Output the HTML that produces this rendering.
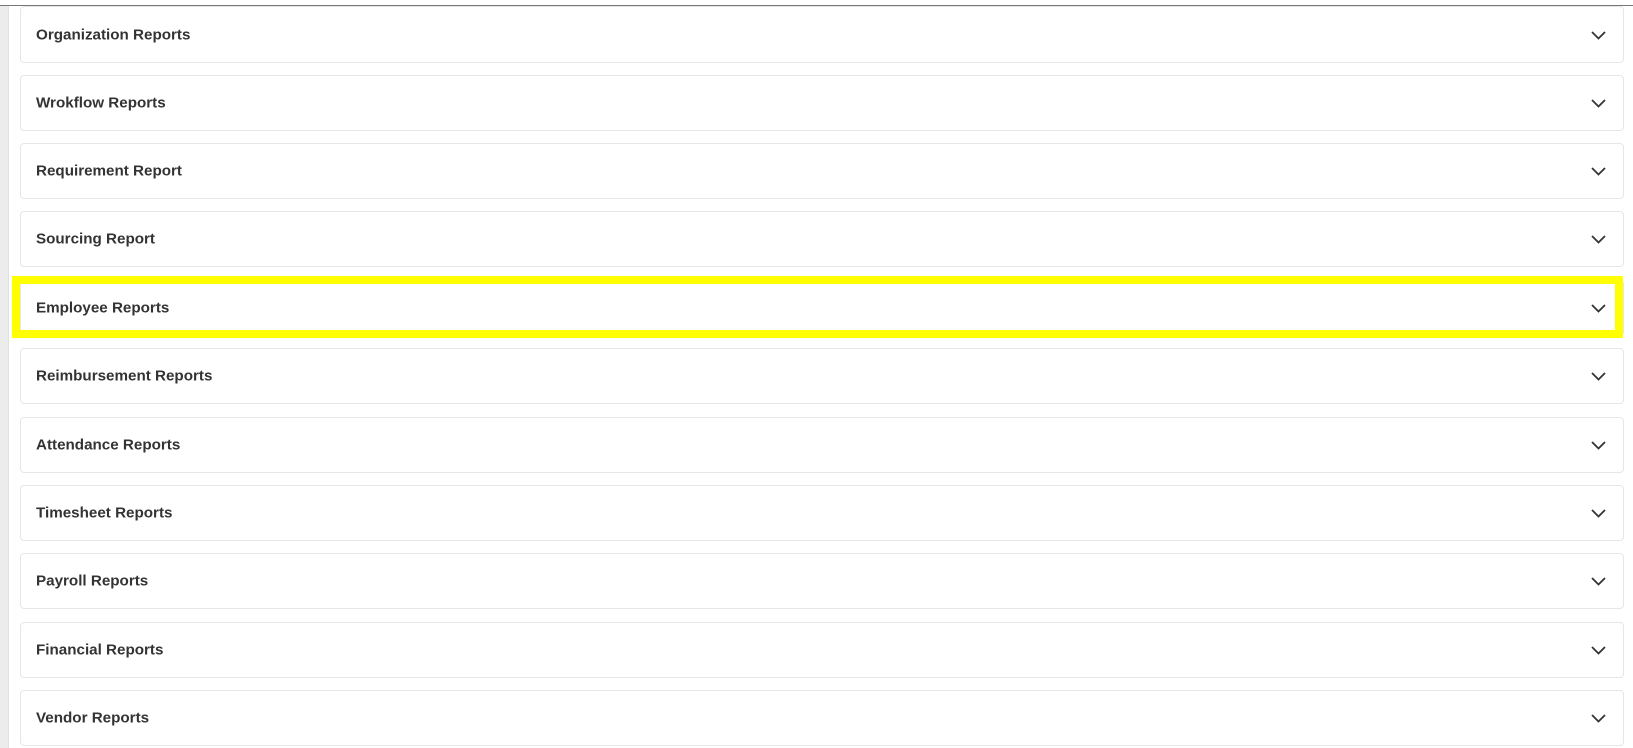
<!DOCTYPE html>
<html><head><style>
html,body{margin:0;padding:0;}
body{width:1633px;height:748px;background:#fff;position:relative;overflow:hidden;font-family:"Liberation Sans",sans-serif;}
.strip{position:absolute;left:0;top:6px;width:8px;height:742px;background:#ececec;border-right:1px solid #e2e2e2;}
.topline{position:absolute;left:0;top:5px;width:1633px;height:1px;background:#777;}
.card{position:absolute;left:20px;width:1604px;height:56px;border:1px solid #e6e6e6;border-radius:4px;background:#fff;box-sizing:border-box;}
.card span{position:absolute;left:15px;top:50%;transform:translateY(-50%);font-size:15.2px;font-weight:bold;color:#333;}
.card svg{position:absolute;right:17px;top:50%;margin-top:-4px;}
.hl{position:absolute;left:12px;top:276px;width:1611px;height:62px;border:8px solid #ffff00;box-sizing:border-box;}
</style></head><body>
<div class="strip"></div>
<div class="topline"></div>
<div class="card" style="top:6px;height:57px"><span>Organization Reports</span><svg width="15" height="9" viewBox="0 0 15 9"><path d="M1 1l6.5 6.5 6.5-6.5" fill="none" stroke="#333" stroke-width="1.8"/></svg></div>
<div class="card" style="top:75px"><span>Wrokflow Reports</span><svg width="15" height="9" viewBox="0 0 15 9"><path d="M1 1l6.5 6.5 6.5-6.5" fill="none" stroke="#333" stroke-width="1.8"/></svg></div>
<div class="card" style="top:143px"><span>Requirement Report</span><svg width="15" height="9" viewBox="0 0 15 9"><path d="M1 1l6.5 6.5 6.5-6.5" fill="none" stroke="#333" stroke-width="1.8"/></svg></div>
<div class="card" style="top:211px"><span>Sourcing Report</span><svg width="15" height="9" viewBox="0 0 15 9"><path d="M1 1l6.5 6.5 6.5-6.5" fill="none" stroke="#333" stroke-width="1.8"/></svg></div>
<div class="card" style="top:280px"><span>Employee Reports</span><svg width="15" height="9" viewBox="0 0 15 9"><path d="M1 1l6.5 6.5 6.5-6.5" fill="none" stroke="#333" stroke-width="1.8"/></svg></div>
<div class="card" style="top:348px"><span>Reimbursement Reports</span><svg width="15" height="9" viewBox="0 0 15 9"><path d="M1 1l6.5 6.5 6.5-6.5" fill="none" stroke="#333" stroke-width="1.8"/></svg></div>
<div class="card" style="top:417px"><span>Attendance Reports</span><svg width="15" height="9" viewBox="0 0 15 9"><path d="M1 1l6.5 6.5 6.5-6.5" fill="none" stroke="#333" stroke-width="1.8"/></svg></div>
<div class="card" style="top:485px"><span>Timesheet Reports</span><svg width="15" height="9" viewBox="0 0 15 9"><path d="M1 1l6.5 6.5 6.5-6.5" fill="none" stroke="#333" stroke-width="1.8"/></svg></div>
<div class="card" style="top:553px"><span>Payroll Reports</span><svg width="15" height="9" viewBox="0 0 15 9"><path d="M1 1l6.5 6.5 6.5-6.5" fill="none" stroke="#333" stroke-width="1.8"/></svg></div>
<div class="card" style="top:622px"><span>Financial Reports</span><svg width="15" height="9" viewBox="0 0 15 9"><path d="M1 1l6.5 6.5 6.5-6.5" fill="none" stroke="#333" stroke-width="1.8"/></svg></div>
<div class="card" style="top:690px"><span>Vendor Reports</span><svg width="15" height="9" viewBox="0 0 15 9"><path d="M1 1l6.5 6.5 6.5-6.5" fill="none" stroke="#333" stroke-width="1.8"/></svg></div>
<div class="hl"></div>
</body></html>
